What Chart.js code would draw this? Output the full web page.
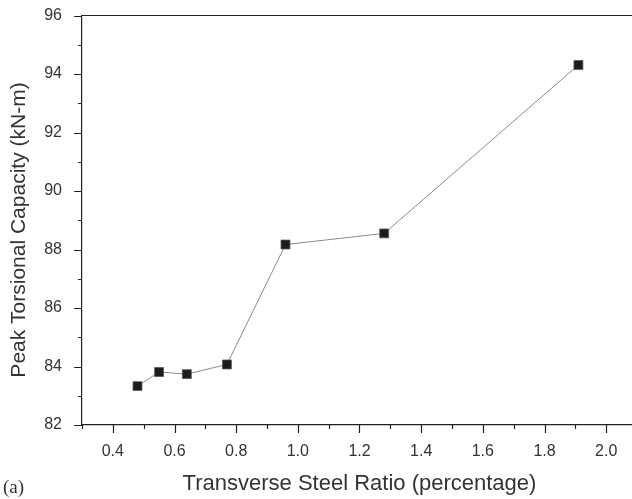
<!DOCTYPE html>
<html lang="en">
  <head>
    <meta charset="utf-8" />
    <title>Peak Torsional Capacity vs Transverse Steel Ratio</title>
    <style>
      * {
        margin: 0;
        padding: 0;
      }
      body {
        width: 632px;
        height: 499px;
        overflow: hidden;
        background: #fff;
      }
      #myChart {
        position: absolute;
        left: 0;
        top: 0;
      }
    </style>
  </head>
  <body>
    <canvas id="myChart" width="637" height="499"></canvas>
    <script src="https://cdn.jsdelivr.net/npm/chart.js/dist/chart.umd.min.js"></script>
    <script>
      // data
      const steelRatio = [0.48, 0.55, 0.64, 0.77, 0.96, 1.28, 1.91];
      const peakTorque = [83.33, 83.81, 83.74, 84.07, 88.17, 88.55, 94.31];

      const xTitle = "Transverse Steel Ratio (percentage)";
      const yTitle = "Peak Torsional Capacity (kN-m)";
      const panelLabel = "(a)";

      const ink = "#333";
      const sans = "'Liberation Sans', Arial, sans-serif";

      // drop the label overhang so the plot box sits where we want it
      function noPad(scale) {
        scale.paddingTop = 0;
        scale.paddingBottom = 0;
        scale.paddingLeft = 0;
        scale.paddingRight = 0;
      }

      // tick marks, top frame line and titles
      const frame = {
        id: "frame",
        afterDraw(chart) {
          const { ctx, chartArea } = chart;
          const xs = chart.scales.x;
          const ys = chart.scales.y;
          ctx.save();
          ctx.strokeStyle = "#222";
          ctx.lineWidth = 1.2;
          ctx.beginPath();
          xs.ticks.forEach((t) => {
            const px = Math.round(xs.getPixelForValue(t.value)) + 0.5;
            const major = Math.round(t.value * 10) % 2 === 0;
            ctx.moveTo(px, chartArea.bottom);
            ctx.lineTo(px, chartArea.bottom + (major ? 8 : 4));
          });
          ys.ticks.forEach((t) => {
            const py = Math.round(ys.getPixelForValue(t.value)) + 0.5;
            const major = Math.round(t.value) % 2 === 0;
            ctx.moveTo(chartArea.left, py);
            ctx.lineTo(chartArea.left - (major ? 8 : 4), py);
          });
          // top frame
          ctx.moveTo(chartArea.left, chartArea.top);
          ctx.lineTo(chartArea.right, chartArea.top);
          ctx.stroke();

          ctx.fillStyle = ink;
          ctx.textAlign = "center";
          ctx.textBaseline = "alphabetic";
          ctx.font = "22px " + sans;
          ctx.fillText(xTitle, (chartArea.left + chartArea.right) / 2, 490);

          ctx.save();
          ctx.translate(25, 230);
          ctx.rotate(-Math.PI / 2);
          ctx.font = "21px " + sans;
          ctx.fillText(yTitle, 0, 0);
          ctx.restore();

          ctx.textAlign = "left";
          ctx.font = "19px 'Liberation Serif', 'Times New Roman', serif";
          ctx.fillText(panelLabel, 3, 493);
          ctx.restore();
        },
      };

      const data = {
        datasets: [
          {
            label: "Peak torsional capacity",
            data: steelRatio.map((x, i) => ({ x, y: peakTorque[i] })),
            borderColor: "#8a8a8a",
            borderWidth: 1,
            pointStyle: "rect",
            pointRadius: 6.3,
            pointBackgroundColor: "#1c1c1c",
            pointBorderColor: "#555",
            pointBorderWidth: 0.8,
            tension: 0,
          },
        ],
      };

      const config = {
        type: "line",
        data,
        options: {
          responsive: false,
          animation: false,
          layout: {
            autoPadding: false,
            padding: { top: 15.5, left: 0, right: 0, bottom: 0 },
          },
          plugins: {
            legend: { display: false },
            tooltip: { enabled: false },
          },
          scales: {
            x: {
              type: "linear",
              min: 0.3,
              max: 2.1,
              grid: { display: false, drawTicks: false },
              border: { display: true, color: "#222", width: 1.2 },
              afterFit(scale) {
                scale.height = 74;
                noPad(scale);
              },
              ticks: {
                stepSize: 0.1,
                autoSkip: false,
                maxRotation: 0,
                padding: 17,
                color: ink,
                font: { family: sans, size: 16 },
                callback(v) {
                  const k = Math.round(v * 10);
                  if (k % 2 !== 0 || k < 4 || k > 20) return "";
                  return (k / 10).toFixed(1);
                },
              },
            },
            y: {
              min: 82,
              max: 96,
              grid: { display: false, drawTicks: false },
              border: { display: true, color: "#222", width: 1.2 },
              afterFit(scale) {
                scale.width = 82;
                noPad(scale);
              },
              ticks: {
                stepSize: 1,
                autoSkip: false,
                padding: 20,
                color: ink,
                font: { family: sans, size: 16 },
                callback(v) {
                  return v % 2 === 0 ? String(v) : "";
                },
              },
            },
          },
        },
        plugins: [frame],
      };

      const myChart = new Chart(document.getElementById("myChart"), config);
    </script>
  </body>
</html>
